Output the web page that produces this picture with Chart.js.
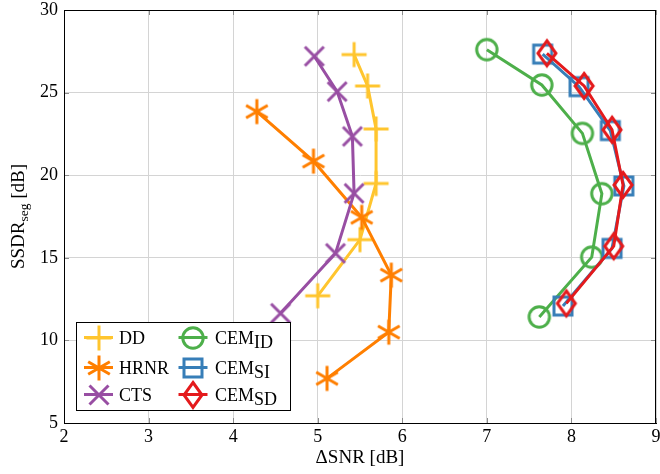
<!DOCTYPE html>
<html><head><meta charset="utf-8">
<script src="https://cdn.jsdelivr.net/npm/chart.js@4/dist/chart.umd.min.js"></script>
<style>html,body{margin:0;padding:0;background:#fff;}</style>
</head><body>
<canvas id="c" width="660" height="474"></canvas>
<script>
// ---- data ----
const xTickValues = [2, 3, 4, 5, 6, 7, 8, 9];
const yTickValues = [5, 10, 15, 20, 25, 30];
const xTitle = 'ΔSNR [dB]';
const yTitleMain = 'SSDR', yTitleSub = 'seg', yTitleTail = ' [dB]';

const seriesNames = ['DD', 'HRNR', 'CTS', 'CEM', 'CEM', 'CEM'];
const seriesSubs  = ['', '', '', 'ID', 'SI', 'SD'];

const ddX   = [5.43, 5.59, 5.69, 5.69, 5.50, 5.00];
const ddY   = [27.3, 25.4, 22.8, 19.5, 16.1, 12.7];
const hrnrX = [4.28, 4.95, 5.52, 5.87, 5.84, 5.11];
const hrnrY = [23.85, 20.85, 17.45, 13.95, 10.5, 7.7];
const ctsX  = [4.96, 5.23, 5.41, 5.43, 5.21, 4.56];
const ctsY  = [27.2, 25.06, 22.35, 18.9, 15.27, 11.64];
const idX   = [7.0, 7.65, 8.13, 8.36, 8.24, 7.62];
const idY   = [27.6, 25.46, 22.53, 18.88, 15.04, 11.42];
const siX   = [7.66, 8.09, 8.46, 8.62, 8.48, 7.90];
const siY   = [27.33, 25.36, 22.7, 19.35, 15.57, 12.08];
const sdX   = [7.71, 8.15, 8.48, 8.61, 8.50, 7.94];
const sdY   = [27.38, 25.4, 22.75, 19.41, 15.7, 12.24];

const colors  = ['#FFC52E', '#FF7F00', '#984EA3', '#4DAF4A', '#377EB8', '#E41A1C'];
const markers = ['plus', 'star', 'x', 'circle', 'square', 'diamond'];
const xs = [ddX, hrnrX, ctsX, idX, siX, sdX];
const ys = [ddY, hrnrY, ctsY, idY, siY, sdY];

const FONT = '"Liberation Serif", "Times New Roman", serif';

function makeMarker(type, color) {
  const c = document.createElement('canvas');
  c.width = 34; c.height = 34;
  const g = c.getContext('2d');
  const m = 17;
  g.strokeStyle = color; g.lineWidth = 3; g.lineJoin = 'miter'; g.lineCap = 'butt';
  g.beginPath();
  if (type === 'plus') {
    const r = 12.5;
    g.moveTo(m - r, m); g.lineTo(m + r, m);
    g.moveTo(m, m - r); g.lineTo(m, m + r);
  } else if (type === 'star') {
    const r = 12.5;
    [90, 30, -30].forEach(a => {
      const t = a * Math.PI / 180, dx = r * Math.cos(t), dy = r * Math.sin(t);
      g.moveTo(m - dx, m - dy); g.lineTo(m + dx, m + dy);
    });
  } else if (type === 'x') {
    const r = 9.5;
    g.moveTo(m - r, m - r); g.lineTo(m + r, m + r);
    g.moveTo(m - r, m + r); g.lineTo(m + r, m - r);
  } else if (type === 'circle') {
    g.arc(m, m, 10.2, 0, Math.PI * 2);
  } else if (type === 'square') {
    g.rect(m - 9, m - 9, 18, 18);
  } else if (type === 'diamond') {
    g.moveTo(m, m - 12.5); g.lineTo(m + 9, m); g.lineTo(m, m + 12.5); g.lineTo(m - 9, m); g.closePath();
  }
  g.stroke();
  return c;
}
const markerImgs = markers.map((t, i) => makeMarker(t, colors[i]));

const datasets = xs.map((xa, i) => ({
  label: seriesNames[i] + seriesSubs[i],
  data: xa.map((x, k) => ({ x: x, y: ys[i][k] })),
  borderColor: colors[i],
  backgroundColor: colors[i],
  borderWidth: 3,
  showLine: true,
  tension: 0,
  pointStyle: markerImgs[i],
  pointRadius: 10,
  pointHoverRadius: 10,
  order: 6 - i,
  clip: false
}));

function zeroPad(s) { s.paddingTop = 0; s.paddingBottom = 0; s.paddingLeft = 0; s.paddingRight = 0; }

const decor = {
  id: 'decor',
  afterDraw(chart) {
    const ctx = chart.ctx, a = chart.chartArea;
    const sx = chart.scales.x, sy = chart.scales.y;
    ctx.save();
    // inward tick marks
    ctx.strokeStyle = '#8c8c8c'; ctx.lineWidth = 1;
    ctx.beginPath();
    xTickValues.forEach(v => {
      const p = Math.round(sx.getPixelForValue(v)) + 0.5;
      ctx.moveTo(p, a.bottom); ctx.lineTo(p, a.bottom - 5);
      ctx.moveTo(p, a.top); ctx.lineTo(p, a.top + 5);
    });
    yTickValues.forEach(v => {
      const p = Math.round(sy.getPixelForValue(v)) + 0.5;
      ctx.moveTo(a.left, p); ctx.lineTo(a.left + 5, p);
      ctx.moveTo(a.right, p); ctx.lineTo(a.right - 5, p);
    });
    ctx.stroke();
    // frame
    ctx.strokeStyle = '#000'; ctx.lineWidth = 1;
    ctx.strokeRect(Math.round(a.left) + 0.5, Math.round(a.top) + 0.5,
                   Math.round(a.right - a.left) - 1, Math.round(a.bottom - a.top));

    // legend
    const L = { left: 76.5, top: 322.5, right: 290.5, bottom: 410.5 };
    ctx.fillStyle = '#fff';
    ctx.fillRect(L.left, L.top, L.right - L.left, L.bottom - L.top);
    ctx.strokeStyle = '#000'; ctx.lineWidth = 1;
    ctx.strokeRect(L.left, L.top, L.right - L.left, L.bottom - L.top);
    const colX = [98.5, 193];
    const textX = [119, 215];
    const rowY = [337.5, 367.5, 394.5];
    for (let i = 0; i < 6; i++) {
      const col = Math.floor(i / 3), row = i % 3;
      const cx = colX[col], cy = rowY[row];
      ctx.strokeStyle = colors[i]; ctx.lineWidth = 3;
      ctx.beginPath(); ctx.moveTo(cx - 14.5, cy); ctx.lineTo(cx + 14.5, cy); ctx.stroke();
      const img = markerImgs[i];
      ctx.drawImage(img, Math.round(cx - img.width / 2), Math.round(cy - img.height / 2));
      ctx.fillStyle = '#000';
      ctx.textBaseline = 'alphabetic'; ctx.textAlign = 'left';
      ctx.font = '18px ' + FONT;
      ctx.fillText(seriesNames[i], textX[col], cy + 6.5);
      if (seriesSubs[i]) {
        const w = ctx.measureText(seriesNames[i]).width;
        ctx.fillText(seriesSubs[i], textX[col] + w, cy + 10.5);
      }
    }

    // x title
    ctx.fillStyle = '#000';
    ctx.font = '19px ' + FONT;
    ctx.textAlign = 'center'; ctx.textBaseline = 'alphabetic';
    ctx.fillText(xTitle, (a.left + a.right) / 2, 463);

    // y title (rotated, with subscript)
    ctx.save();
    ctx.translate(23.5, (a.top + a.bottom) / 2);
    ctx.rotate(-Math.PI / 2);
    ctx.textAlign = 'left';
    ctx.font = '19px ' + FONT;
    const w1 = ctx.measureText(yTitleMain).width;
    const w3 = ctx.measureText(yTitleTail).width;
    ctx.font = '13.5px ' + FONT;
    const w2 = ctx.measureText(yTitleSub).width;
    let x0 = -(w1 + w2 + w3) / 2;
    ctx.font = '19px ' + FONT;
    ctx.fillText(yTitleMain, x0, 0);
    ctx.font = '13.5px ' + FONT;
    ctx.fillText(yTitleSub, x0 + w1, 4);
    ctx.font = '19px ' + FONT;
    ctx.fillText(yTitleTail, x0 + w1 + w2, 0);
    ctx.restore();
    ctx.restore();
  }
};

const chart = new Chart(document.getElementById('c'), {
  type: 'scatter',
  data: { datasets },
  options: {
    responsive: false,
    animation: false,
    devicePixelRatio: 1,
    layout: { autoPadding: false, padding: { top: 10, right: 4, left: 0, bottom: 0 } },
    plugins: { legend: { display: false }, tooltip: { enabled: false }, title: { display: false } },
    scales: {
      x: {
        type: 'linear', min: 2, max: 9,
        afterFit(s) { s.height = 51; zeroPad(s); },
        afterBuildTicks(s) { s.ticks = xTickValues.map(v => ({ value: v })); },
        grid: { color: '#d4d4d4', lineWidth: 1, drawTicks: false },
        border: { display: true, color: '#000', width: 1 },
        ticks: { color: '#000', padding: 3, maxRotation: 0, font: { family: FONT, size: 18 } }
      },
      y: {
        type: 'linear', min: 5, max: 30,
        afterFit(s) { s.width = 64; zeroPad(s); },
        afterBuildTicks(s) { s.ticks = yTickValues.map(v => ({ value: v })); },
        grid: { color: '#d4d4d4', lineWidth: 1, drawTicks: false },
        border: { display: true, color: '#000', width: 1 },
        ticks: { color: '#000', padding: 6, font: { family: FONT, size: 18 } }
      }
    }
  },
  plugins: [decor]
});
</script>
</body></html>
